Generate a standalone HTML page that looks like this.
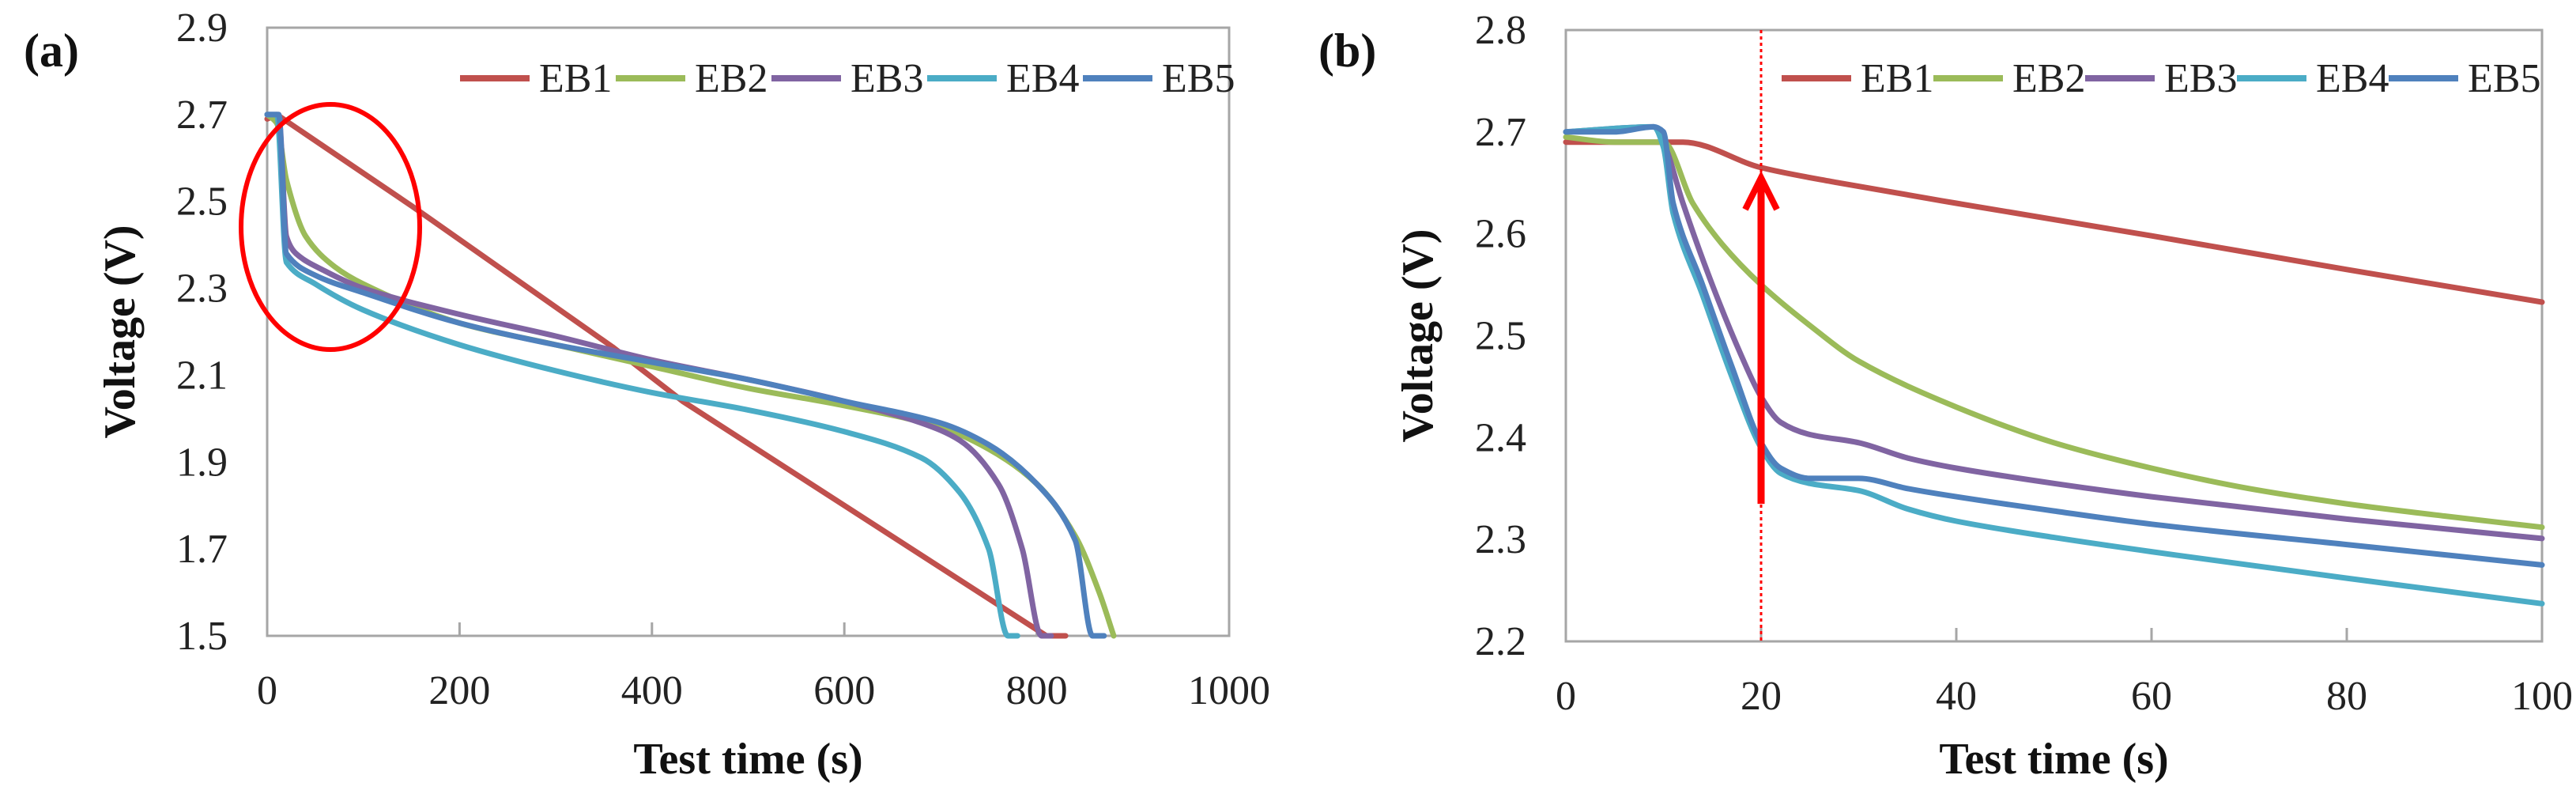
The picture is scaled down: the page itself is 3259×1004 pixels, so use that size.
<!DOCTYPE html>
<html><head><meta charset="utf-8"><style>
html,body{margin:0;padding:0;background:#fff;}
svg, svg text{font-family:"Liberation Serif","Times New Roman","DejaVu Serif",serif;}
</style></head><body>
<svg id="chart" width="3259" height="999" viewBox="0 0 3259 999" xmlns="http://www.w3.org/2000/svg"></svg>
<script>
// ---- Panel (a) data ----
const aEB1t=[0,10,150,359,432,600,810,830];
const aEB1v=[2.69,2.70,2.49,2.165,2.04,1.80,1.5,1.5];
const aEB2t=[0,10,20,40,70,100,200,300,400,500,600,700,750,800,840,865,880];
const aEB2v=[2.7,2.68,2.55,2.42,2.35,2.31,2.22,2.17,2.12,2.07,2.03,1.98,1.93,1.85,1.73,1.6,1.5];
const aEB3t=[0,12,20,30,60,100,200,300,400,500,600,680,720,760,785,805,815];
const aEB3v=[2.7,2.7,2.42,2.38,2.34,2.3,2.24,2.19,2.135,2.09,2.04,1.99,1.95,1.85,1.7,1.5,1.5];
const aEB4t=[0,10,20,50,100,200,300,400,500,600,680,720,750,770,780];
const aEB4v=[2.7,2.7,2.36,2.31,2.25,2.17,2.11,2.06,2.02,1.97,1.91,1.83,1.7,1.5,1.5];
const aEB5t=[0,12,20,50,100,200,300,400,500,600,700,750,800,840,858,870];
const aEB5v=[2.7,2.7,2.38,2.33,2.29,2.22,2.17,2.13,2.09,2.04,1.99,1.94,1.85,1.72,1.5,1.5];
const aXTicks=[0,200,400,600,800,1000];
const aYTicks=[1.5,1.7,1.9,2.1,2.3,2.5,2.7,2.9];
// ---- Panel (b) data ----
const bEB1t=[0,12,20,28,40,60,80,100];
const bEB1v=[2.69,2.69,2.665,2.65,2.63,2.598,2.565,2.533];
const bEB2t=[0,5,10,13,16,20,25,30,40,50,60,70,80,90,100];
const bEB2v=[2.695,2.69,2.69,2.63,2.59,2.55,2.51,2.475,2.43,2.395,2.37,2.35,2.335,2.323,2.312];
const bEB3t=[0,9,10,12,15,18,20,22,25,30,35,40,50,60,80,100];
const bEB3v=[2.7,2.705,2.69,2.63,2.55,2.48,2.44,2.415,2.403,2.395,2.38,2.37,2.355,2.342,2.32,2.301];
const bEB4t=[0,9,10,11,14,17,20,22,25,30,35,40,50,60,80,100];
const bEB4v=[2.7,2.705,2.685,2.62,2.54,2.46,2.39,2.365,2.355,2.348,2.33,2.318,2.302,2.288,2.262,2.237];
const bEB5t=[0,5,9,10,11,14,17,20,22,25,30,35,40,50,60,80,100];
const bEB5v=[2.7,2.7,2.705,2.70,2.63,2.55,2.47,2.395,2.37,2.36,2.36,2.35,2.342,2.328,2.315,2.295,2.275];
const bXTicks=[0,20,40,60,80,100];
const bYTicks=[2.2,2.3,2.4,2.5,2.6,2.7,2.8];
const seriesNames=["EB1","EB2","EB3","EB4","EB5"];
const colors=["#c0504d","#9bbb59","#8064a2","#4bacc6","#4f81bd"];
const markerT=20, arrowFrom=2.335, arrowTo=2.655;

const NS="http://www.w3.org/2000/svg";
const FF="'Liberation Serif', 'Times New Roman', 'DejaVu Serif', serif";
const svg=document.getElementById('chart');
function mk(tag,attrs,parent,text){const e=document.createElementNS(NS,tag);for(const k in attrs)e.setAttribute(k,attrs[k]);if(text!==undefined){e.textContent=text;e.setAttribute('font-family',FF);e.style.fontFamily=FF;}(parent||svg).appendChild(e);return e;}
function linear(p){return 'M'+p.map(q=>q[0].toFixed(1)+','+q[1].toFixed(1)).join(' L');}
// monotone cubic (no overshoot)
function monotone(p){
  const n=p.length, dx=[], s=[], m=[];
  for(let i=0;i<n-1;i++){dx[i]=p[i+1][0]-p[i][0];s[i]=(p[i+1][1]-p[i][1])/(dx[i]||1e-6);}
  m[0]=s[0];m[n-1]=s[n-2];
  for(let i=1;i<n-1;i++){m[i]=(s[i-1]*s[i]<=0)?0:(2*s[i-1]*s[i])/(s[i-1]+s[i]);}
  let d='M'+p[0][0].toFixed(1)+','+p[0][1].toFixed(1);
  for(let i=0;i<n-1;i++){
    const h=dx[i]/3;
    d+=' C'+(p[i][0]+h).toFixed(1)+','+(p[i][1]+m[i]*h).toFixed(1)+' '+(p[i+1][0]-h).toFixed(1)+','+(p[i+1][1]-m[i+1]*h).toFixed(1)+' '+p[i+1][0].toFixed(1)+','+p[i+1][1].toFixed(1);
  }
  return d;
}

function panel(cfg){
  const g=mk('g',{});
  
  
  const X=v=>cfg.L+(v-cfg.x0)/(cfg.x1-cfg.x0)*(cfg.R-cfg.L);
  const Y=v=>cfg.B-(v-cfg.y0)/(cfg.y1-cfg.y0)*(cfg.B-cfg.T);
  const frame=mk('rect',{x:cfg.L,y:cfg.T,width:cfg.R-cfg.L,height:cfg.B-cfg.T,fill:'none',stroke:'#a6a6a6','stroke-width':3},g);
  
  
  cfg.xt.forEach(v=>{
    const tk=mk('line',{x1:X(v),x2:X(v),y1:cfg.B,y2:cfg.B-17,stroke:'#a6a6a6','stroke-width':3},g);
    
    
    const t=mk('text',{x:X(v),y:cfg.B+86,'text-anchor':'middle','font-size':52,fill:'#222'},g,String(v));
    
    
  });
  cfg.yt.forEach(v=>{
    const t=mk('text',{x:cfg.L-50,y:Y(v)+17,'text-anchor':'end','font-size':52,fill:'#222'},g,v.toFixed(1));
    
    
  });
  cfg.series.forEach((s,i)=>{
    const pts=s[0].map((t,j)=>[X(t),Y(s[1][j])]);
    const d=(cfg.linear||[]).includes(i)?linear(pts):monotone(pts);
    const pl=mk('path',{d:d,fill:'none',stroke:colors[i],'stroke-width':7,'stroke-linejoin':'round','stroke-linecap':'round'},g);
    
    
  });
  seriesNames.forEach((n,i)=>{
    const lx=cfg.legX+i*cfg.legStep;
    const ll=mk('line',{x1:lx,x2:lx+88,y1:cfg.legY,y2:cfg.legY,stroke:colors[i],'stroke-width':8},g);
    
    
    const lt=mk('text',{x:lx+100,y:cfg.legY+17,'font-size':52,fill:'#222'},g,n);
    
    
  });
  const xt=mk('text',{x:(cfg.L+cfg.R)/2,y:978,'text-anchor':'middle','font-size':56,'font-weight':'bold',fill:'#111'},g,'Test time (s)');
  
  
  const yt=mk('text',{x:0,y:0,'text-anchor':'middle','font-size':56,'font-weight':'bold',fill:'#111',transform:`translate(${cfg.yLabX},${(cfg.T+cfg.B)/2}) rotate(-90)`},g,'Voltage (V)');
  
  
  const pt=mk('text',{x:cfg.tagX,y:84,'font-size':60,'font-weight':'bold',fill:'#111'},g,cfg.tag);
  
  
  return {g,X,Y};
}

const A=panel({name:'panel-a',L:338,R:1555,T:35,B:804,x0:0,x1:1000,y0:1.5,y1:2.9,xt:aXTicks,yt:aYTicks,
  series:[[aEB1t,aEB1v],[aEB2t,aEB2v],[aEB3t,aEB3v],[aEB4t,aEB4v],[aEB5t,aEB5v]],linear:[0],
  legX:582,legStep:197,legY:99,yLabX:170,tagX:30,tag:'(a)'});
const el=mk('ellipse',{cx:418,cy:287,rx:113,ry:155,fill:'none',stroke:'#ff0000','stroke-width':6},A.g);



const B=panel({name:'panel-b',L:1981,R:3216,T:38,B:811,x0:0,x1:100,y0:2.2,y1:2.8,xt:bXTicks,yt:bYTicks,
  series:[[bEB1t,bEB1v],[bEB2t,bEB2v],[bEB3t,bEB3v],[bEB4t,bEB4v],[bEB5t,bEB5v]],
  legX:2254,legStep:192,legY:99,yLabX:1812,tagX:1668,tag:'(b)'});
const dl=mk('line',{x1:B.X(markerT),x2:B.X(markerT),y1:38,y2:811,stroke:'#ff0000','stroke-width':3,'stroke-dasharray':'4,4'},B.g);


const ax=B.X(markerT), ay1=B.Y(arrowFrom), ay2=B.Y(arrowTo);
const sh=mk('line',{x1:ax,x2:ax,y1:ay1,y2:ay2+8,stroke:'#ff0000','stroke-width':9},B.g);


const hd=mk('polyline',{points:`${ax-20},${ay2+40} ${ax},${ay2} ${ax+20},${ay2+40}`,fill:'none',stroke:'#ff0000','stroke-width':8,'stroke-linejoin':'miter'},B.g);


</script>
</body></html>
